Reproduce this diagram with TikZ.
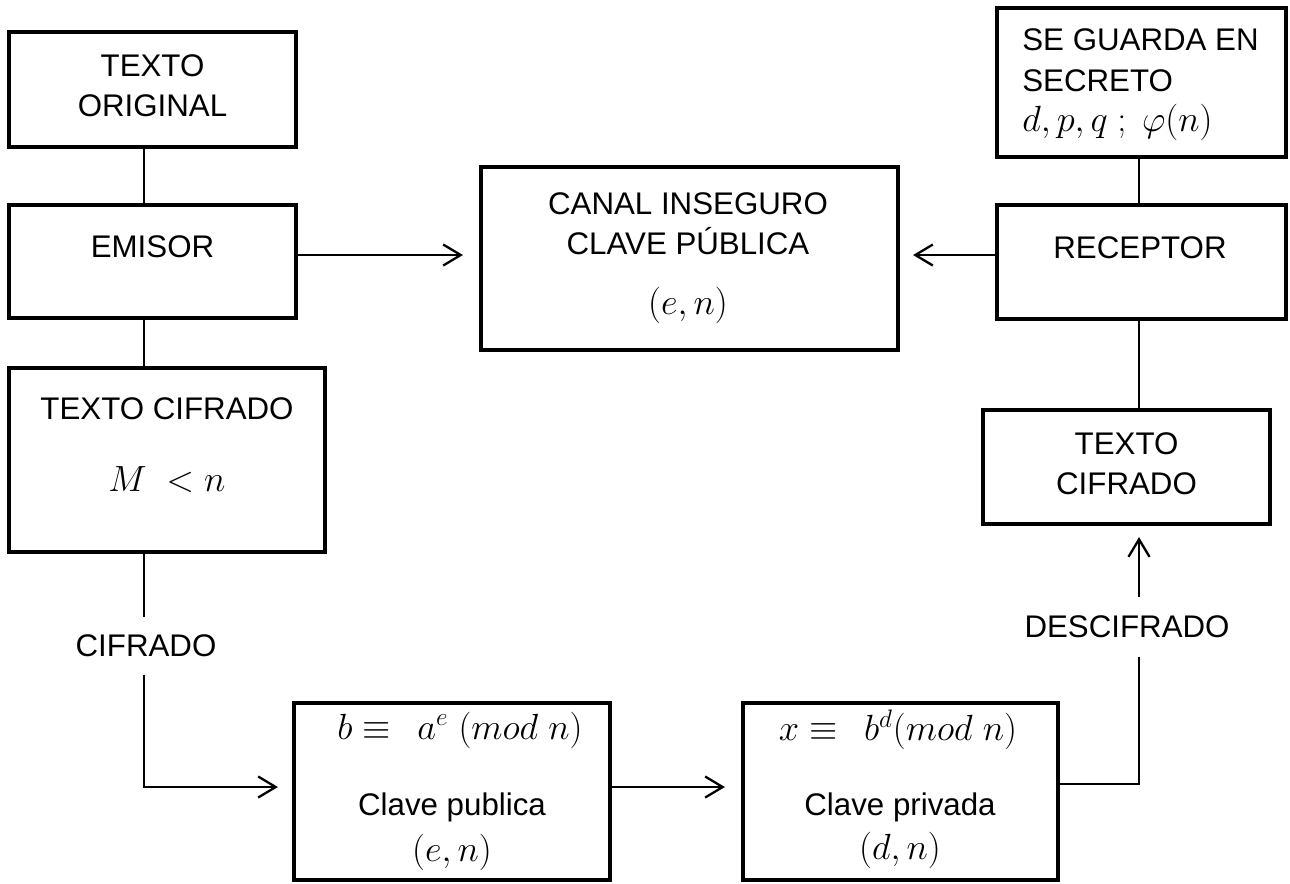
\documentclass[tikz,border=0pt]{standalone}
\usepackage{fontspec}
\setmainfont{Liberation Sans}
\usetikzlibrary{arrows.meta}
\begin{document}
\begin{tikzpicture}[x=0.02cm,y=-0.02cm,
  box/.style={draw, line width=2.4pt, inner sep=0pt, rectangle},
  txt/.style={inner sep=0pt, align=center, font=\fontsize{17.8}{23}\selectfont},
  mth/.style={inner sep=0pt, align=center, font=\fontsize{19.5}{23}\selectfont},
  conn/.style={line width=1.15pt},
  arr/.style={conn, -{Straight Barb[length=10pt,width=12pt,line width=1.3pt]}}]
\useasboundingbox (0,0) rectangle (1290,883);

% boxes
\node[box, minimum width=5.74cm, minimum height=2.30cm] (orig) at (152.5,89.5) {};
\node[box, minimum width=5.74cm, minimum height=2.26cm] (emisor) at (152.5,261.5) {};
\node[box, minimum width=6.32cm, minimum height=3.68cm] (cifL) at (167,460) {};
\node[box, minimum width=8.34cm, minimum height=3.66cm] (canal) at (689.5,258.5) {};
\node[box, minimum width=5.78cm, minimum height=2.98cm] (secreto) at (1141.5,82.5) {};
\node[box, minimum width=5.78cm, minimum height=2.28cm] (receptor) at (1141.5,262) {};
\node[box, minimum width=5.74cm, minimum height=2.28cm] (cifR) at (1126.5,467) {};
\node[box, minimum width=6.32cm, minimum height=3.54cm] (pub) at (452,791.5) {};
\node[box, minimum width=6.30cm, minimum height=3.54cm] (priv) at (900.5,791.5) {};

% texts
\node[txt] (origT) at (152.5,85.5) {TEXTO\\ORIGINAL};
\node[txt] (emisorT) at (152.5,247) {EMISOR};
\node[txt] (cifLT) at (167,409) {TEXTO CIFRADO};
\node[mth] (cifLM) at (167,480) {$M\ <n$};
\node[txt] (canalT) at (688,224) {CANAL INSEGURO\\CLAVE PÚBLICA};
\node[mth] (canalM) at (688,305) {$(e,n)$};
\node[txt, align=left, anchor=west] (secretoT) at (1022,85) {SE GUARDA EN\\SECRETO\\\fontsize{19.5}{23}\selectfont$d,p,q\ ;\ \varphi(n)$};
\node[txt] (receptorT) at (1140,248) {RECEPTOR};
\node[txt] (cifRT) at (1126.5,464) {TEXTO\\CIFRADO};
\node[mth] (pubF) at (460,730) {$b\equiv\;\, a^{e}\;(mod\;n)$};
\node[txt] (pubT) at (452,807) {Clave publica};
\node[mth] (pubM) at (452,852) {$(e,n)$};
\node[mth] (privF) at (898,730) {$x\equiv\;\, b^{d}(mod\;n)$};
\node[txt] (privT) at (900,807) {Clave privada};
\node[mth] (privM) at (900,850) {$(d,n)$};
\node[txt, minimum height=1.14cm] (cifrado) at (146,646) {CIFRADO};
\node[txt, minimum height=1.20cm] (descif) at (1127,627) {DESCIFRADO};

% helper coordinates
\coordinate (lx) at (144,0);
\coordinate (rx) at (1139,0);
\coordinate (ty) at (0,255);
\coordinate (by) at (0,787);
\coordinate (dy) at (0,784);

% connectors
\draw[conn] (orig.south -| lx) -- (emisor.north -| lx);
\draw[conn] (emisor.south -| lx) -- (cifL.north -| lx);
\draw[conn] (cifL.south -| lx) -- (cifrado.north -| lx);
\draw[arr, shorten >=0.28cm] (cifrado.south -| lx) |- (pub.west |- by);
\draw[arr, shorten >=0.32cm] (pub.east |- by) -- (priv.west |- by);
\draw[conn] (priv.east |- dy) -| (descif.south -| rx);
\draw[arr, shorten >=0.22cm] (descif.north -| rx) -- (cifR.south -| rx);
\draw[conn] (secreto.south -| rx) -- (receptor.north -| rx);
\draw[conn] (receptor.south -| rx) -- (cifR.north -| rx);
\draw[arr, shorten >=0.32cm] (emisor.east |- ty) -- (canal.west |- ty);
\draw[arr, shorten >=0.26cm] (receptor.west |- ty) -- (canal.east |- ty);
\end{tikzpicture}
\end{document}
